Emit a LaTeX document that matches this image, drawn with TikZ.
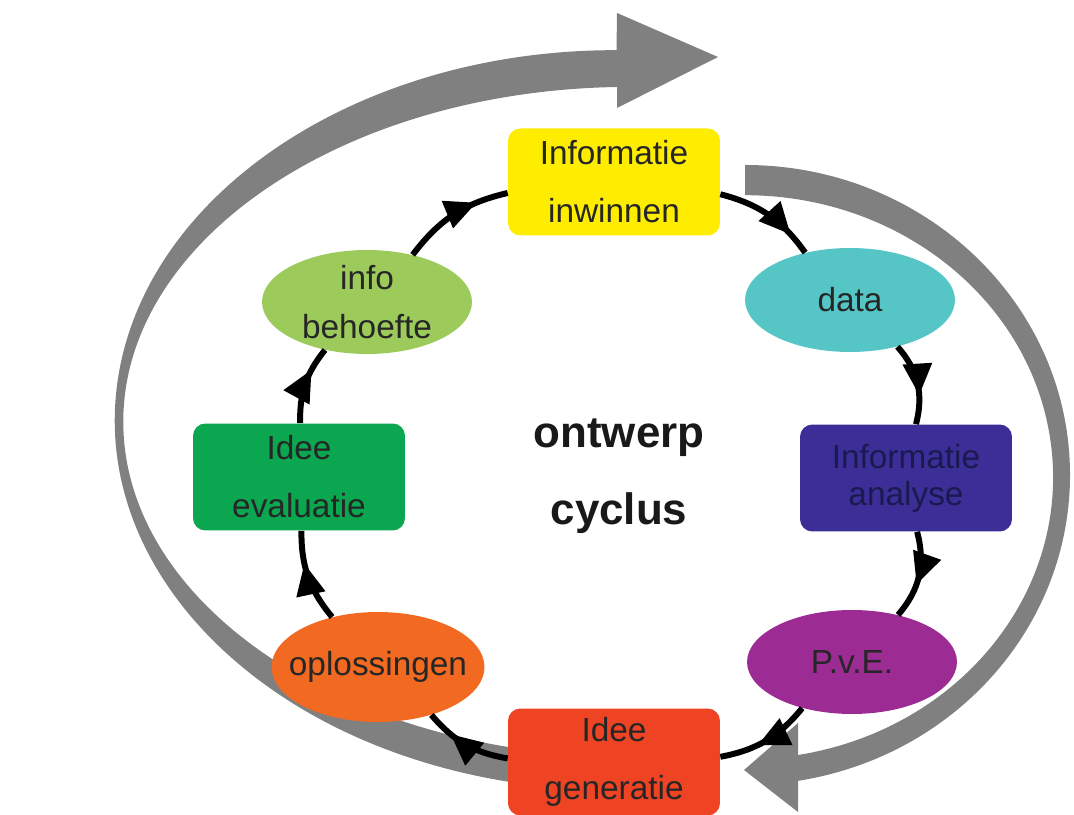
\documentclass[tikz,border=0pt]{standalone}
\usepackage{fontspec}
\setmainfont{Liberation Sans}
\usetikzlibrary{arrows.meta,positioning,shapes.geometric,decorations.markings}

\definecolor{geel}{HTML}{FFED00}
\definecolor{turkoois}{HTML}{55C5C5}
\definecolor{indigo}{HTML}{3B2F97}
\definecolor{navytekst}{HTML}{1C1850}
\definecolor{paars}{HTML}{9C2B94}
\definecolor{rood}{HTML}{EF4423}
\definecolor{oranje}{HTML}{F26A21}
\definecolor{groen}{HTML}{0AA650}
\definecolor{lichtgroen}{HTML}{9DCB5B}
\definecolor{grijs}{HTML}{808080}

\tikzset{
  box/.style={rectangle, rounded corners=7pt, minimum width=4.24cm, minimum height=2.14cm, inner sep=0pt, align=center, font=\fontsize{19}{33}\selectfont, text=black!85},
  blob/.style={ellipse, minimum width=4.2cm, minimum height=2.08cm, inner sep=0pt},
  blobtext/.style={align=center, font=\fontsize{19}{28}\selectfont, text=black!85},
  flow/.style={draw=black, line width=3.4pt, postaction={decorate}, decoration={markings, mark=at position #1 with {\arrow{Triangle[length=18pt,width=16pt]}}}},
  flow/.default=0.7,
  band/.style={fill=grijs}
}

\begin{document}
\begin{tikzpicture}[x=0.02cm, y=0.02cm]
  \useasboundingbox (0,0) rectangle (1074,814);

  % grey return arrows
  \fill[band] (540,28) arc[start angle=261.4, end angle=89.8, x radius=500, y radius=370]
    -- (617,801) -- (718,757) -- (617,706) -- (617,727)
    arc[start angle=91.5, end angle=260.2, x radius=507, y radius=335] -- cycle;
  \fill[band] (745,649) arc[start angle=90, end angle=-80.6, x radius=325, y radius=310]
    -- (798,2) -- (744,44) -- (798,91) -- (798,59)
    arc[start angle=-80.1, end angle=90, x radius=308, y radius=282] -- cycle;

  % cycle steps
  \node (inwinnen) [box, fill=geel] at (614,632) {Informatie\\inwinnen};
  \node (data) [blob, fill=turkoois, label={[blobtext]center:data}] at (850,514) {};
  \node (analyse) [box, fill=indigo, font=\fontsize{19}{21}\selectfont, text=navytekst] at (906,336) {Informatie\\analyse};
  \node (pve) [blob, fill=paars, label={[blobtext]center:P.v.E.}] at (852,152) {};
  \node (generatie) [box, fill=rood] at (614,52) {Idee\\generatie};
  \node (oplossingen) [blob, fill=oranje, minimum width=4.26cm, minimum height=2.2cm, label={[blobtext]center:oplossingen}] at (378,147) {};
  \node (evaluatie) [box, fill=groen] at (299,337) {Idee\\evaluatie};
  \node (behoefte) [blob, fill=lichtgroen, label={[blobtext]center:info\\behoefte}] at (367,512) {};

  \node (titel) [font=\bfseries\fontsize{25}{44}\selectfont, align=center, text=black!90] at (619,338) {ontwerp\\cyclus};

  \path
  (inwinnen) edge[flow=0.78, bend left=20] (data)
  (data) edge[flow=0.65, bend left=28] (analyse)
  (analyse) edge[flow=0.6, bend left=28] (pve)
  (pve) edge[flow=0.6, bend left=20] (generatie)
  (generatie) edge[flow=0.7, bend left=20] (oplossingen)
  (oplossingen) edge[flow=0.65, bend left=20] (evaluatie)
  (evaluatie) edge[flow=0.7, bend left=20] (behoefte)
  (behoefte) edge[flow=0.72, bend left=20] (inwinnen);
\end{tikzpicture}
\end{document}
